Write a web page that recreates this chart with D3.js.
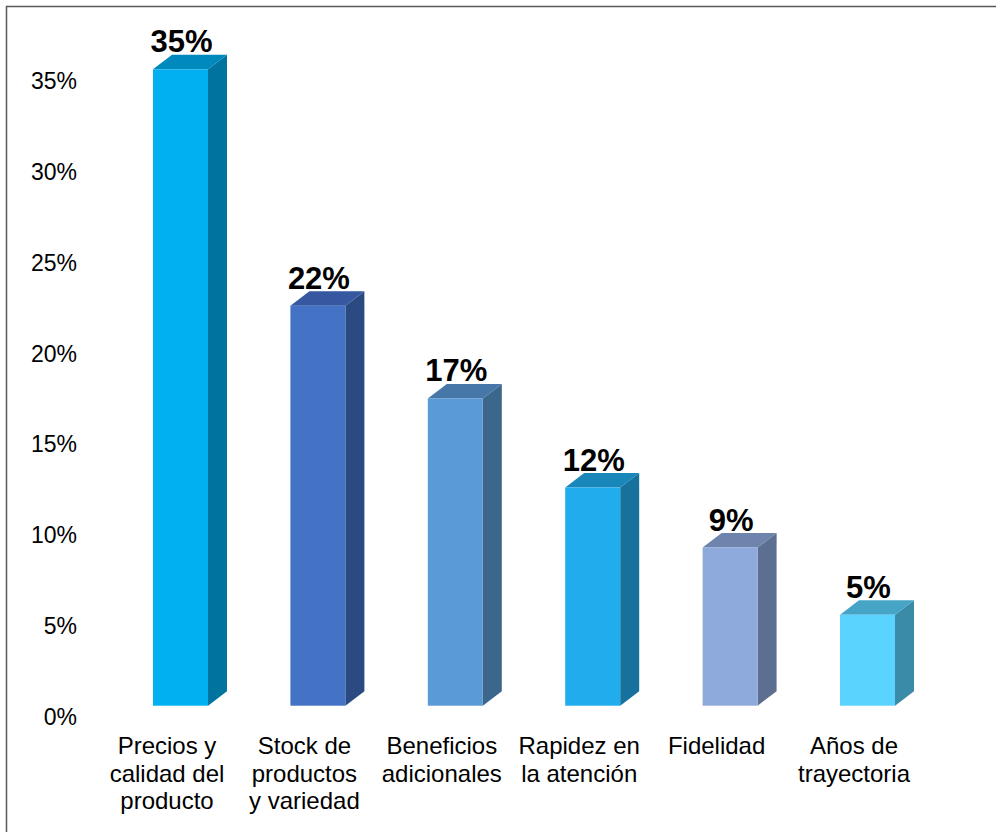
<!DOCTYPE html>
<html>
<head>
<meta charset="utf-8">
<script src="https://cdn.jsdelivr.net/npm/d3@7"></script>
<style>
  html, body { margin: 0; padding: 0; background: #fff; }
  svg { display: block; font-family: "Liberation Sans", Arial, sans-serif; }
</style>
</head>
<body>
<div id="chartDiv"></div>
<script>
var width = 996;
var height = 832;

// data
var categories = ["Precios y\ncalidad del\nproducto", "Stock de\nproductos\ny variedad", "Beneficios\nadicionales",
                  "Rapidez en\nla atención", "Fidelidad", "Años de\ntrayectoria"];
var values = [0.35, 0.22, 0.169, 0.12, 0.087, 0.05];
var frontColors = ["#00B0F0", "#4472C4", "#5B9BD5", "#21ACEE", "#8EAADC", "#5AD3FF"];
var sideColors  = ["#00749F", "#2B4A82", "#3C668C", "#16719D", "#5D6F90", "#3A8BA7"];
var topColors   = ["#0089BC", "#3558A0", "#4677A8", "#1A87BB", "#6E84AD", "#46A4C6"];
var yTicks = [0, 0.05, 0.10, 0.15, 0.20, 0.25, 0.30, 0.35];

var depthX = 19, depthY = 14.5;   // 3d offset of the bar back face
var barW = 55;

var y = d3.scaleLinear().domain([0, 0.35]).range([705.7, 69.3]);
var x = d3.scaleBand().domain(categories).range([98.3, 922.7]).padding(0);
var pct = d3.format(".0%");

var svg = d3.select("#chartDiv")
    .append("svg")
    .attr("width", width)
    .attr("height", height);

// outer border (right/bottom edges fall outside the picture)
svg.append("rect")
    .attr("x", 6.5).attr("y", 6.5)
    .attr("width", width + 10).attr("height", height + 10)
    .attr("fill", "none")
    .attr("stroke", "#595959")
    .attr("stroke-width", 1.5);

// y tick labels (sit on the back wall, so a bit lower than the front)
svg.append("g")
    .selectAll("text")
    .data(yTicks)
    .join("text")
        .attr("x", 77)
        .attr("y", d => y(d) + 19.5)
        .attr("text-anchor", "end")
        .style("font-size", "23px")
        .attr("fill", "#000")
        .text(d => pct(d));

var bar = svg.append("g")
    .selectAll("g")
    .data(categories.map((c, i) => ({c, v: values[i], i})))
    .join("g");

var left = d => x(d.c) + x.bandwidth() / 2 - 14;

// side face
bar.append("path")
    .attr("fill", d => sideColors[d.i])
    .attr("d", d => {
        var x1 = left(d) + barW, t = y(d.v), b = y(0);
        return `M${x1},${t} L${x1 + depthX},${t - depthY} L${x1 + depthX},${b - depthY} L${x1},${b} Z`;
    });

// top face
bar.append("path")
    .attr("fill", d => topColors[d.i])
    .attr("d", d => {
        var x0 = left(d), x1 = x0 + barW, t = y(d.v);
        return `M${x0},${t} L${x0 + depthX},${t - depthY} L${x1 + depthX},${t - depthY} L${x1},${t} Z`;
    });

// front face
bar.append("rect")
    .attr("x", d => left(d))
    .attr("y", d => y(d.v))
    .attr("width", barW)
    .attr("height", d => y(0) - y(d.v))
    .attr("fill", d => frontColors[d.i]);

// value labels
bar.append("text")
    .attr("x", d => left(d) + barW / 2 + 1)
    .attr("y", d => y(d.v) - depthY - 2.5)
    .attr("text-anchor", "middle")
    .style("font-size", "31px")
    .style("font-weight", "bold")
    .attr("fill", "#000")
    .text(d => pct(d.v));

// category labels
svg.append("g")
    .selectAll("text")
    .data(categories)
    .join("text")
        .attr("x", d => x(d) + x.bandwidth() / 2)
        .attr("y", 754)
        .attr("text-anchor", "middle")
        .style("font-size", "24px")
        .attr("fill", "#000")
    .selectAll("tspan")
    .data(d => d.split("\n"))
    .join("tspan")
        .attr("x", function() { return d3.select(this.parentNode).attr("x"); })
        .attr("dy", (d, i) => i === 0 ? 0 : 27.5)
        .text(d => d);
</script>
</body>
</html>
